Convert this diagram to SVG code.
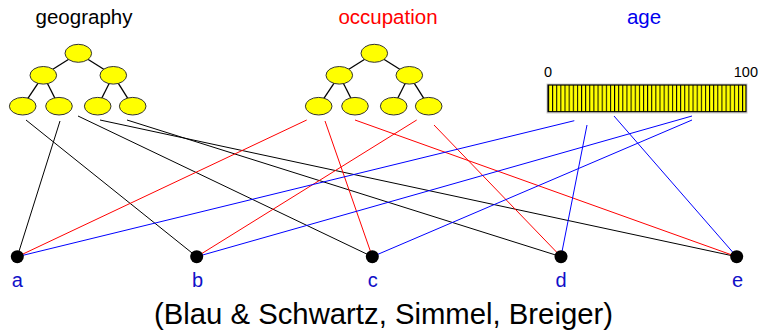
<svg xmlns="http://www.w3.org/2000/svg" width="759" height="332" viewBox="0 0 759 332">
<style>
  text { font-family: "Liberation Sans", Arial, sans-serif; }
  .tree line { stroke: #000; stroke-width: 1.3; }
  .tree ellipse { fill: #ffff00; stroke: #333; stroke-width: 1; }
  .k { stroke: #000; stroke-width: 1; }
  .r { stroke: #ff0000; stroke-width: 1; }
  .b { stroke: #0000ff; stroke-width: 1; }
  .node circle { fill: #000; }
  .lab { font-size: 20px; fill: #1010c8; text-anchor: middle; }
  .stripe { stroke: #000; stroke-width: 1; }
</style>
<rect width="759" height="332" fill="#ffffff"/>

<text x="84" y="24" font-size="20.5" text-anchor="middle" fill="#000">geography</text>
<text x="388" y="24" font-size="20.5" text-anchor="middle" fill="#ff0000">occupation</text>
<text x="644" y="24" font-size="20.5" text-anchor="middle" fill="#0000ee">age</text>

<g id="geography" class="tree">
  <line x1="78.3" y1="53.3" x2="43.3" y2="75.3"/>
  <line x1="78.3" y1="53.3" x2="113.3" y2="75.3"/>
  <line x1="43.3" y1="75.3" x2="22.7" y2="106.2"/>
  <line x1="43.3" y1="75.3" x2="59" y2="106.2"/>
  <line x1="113.3" y1="75.3" x2="97.7" y2="106.2"/>
  <line x1="113.3" y1="75.3" x2="132.7" y2="106.2"/>
  <ellipse cx="78.3" cy="53.3" rx="13.3" ry="9"/>
  <ellipse cx="43.3" cy="75.3" rx="13.3" ry="8.8"/>
  <ellipse cx="113.3" cy="75.3" rx="13.3" ry="8.8"/>
  <ellipse cx="22.7" cy="106.2" rx="13.3" ry="8.8"/>
  <ellipse cx="59" cy="106.2" rx="13.3" ry="8.8"/>
  <ellipse cx="97.7" cy="106.2" rx="13.3" ry="8.8"/>
  <ellipse cx="132.7" cy="106.2" rx="13.3" ry="8.8"/>
</g>

<g id="occupation" class="tree" transform="translate(296,0)">
  <line x1="78.3" y1="53.3" x2="43.3" y2="75.3"/>
  <line x1="78.3" y1="53.3" x2="113.3" y2="75.3"/>
  <line x1="43.3" y1="75.3" x2="22.7" y2="106.2"/>
  <line x1="43.3" y1="75.3" x2="59" y2="106.2"/>
  <line x1="113.3" y1="75.3" x2="97.7" y2="106.2"/>
  <line x1="113.3" y1="75.3" x2="132.7" y2="106.2"/>
  <ellipse cx="78.3" cy="53.3" rx="13.3" ry="9"/>
  <ellipse cx="43.3" cy="75.3" rx="13.3" ry="8.8"/>
  <ellipse cx="113.3" cy="75.3" rx="13.3" ry="8.8"/>
  <ellipse cx="22.7" cy="106.2" rx="13.3" ry="8.8"/>
  <ellipse cx="59" cy="106.2" rx="13.3" ry="8.8"/>
  <ellipse cx="97.7" cy="106.2" rx="13.3" ry="8.8"/>
  <ellipse cx="132.7" cy="106.2" rx="13.3" ry="8.8"/>
</g>

<defs>
  <pattern id="stripes" x="548" y="0" width="4.13" height="10" patternUnits="userSpaceOnUse">
    <rect x="0" y="0" width="4.13" height="10" fill="#ffff00"/>
    <rect x="0" y="0" width="1" height="10" fill="#000"/>
  </pattern>
</defs>
<g id="age">
  <text x="544" y="76.5" font-size="14.5" fill="#000">0</text>
  <text x="758" y="76.5" font-size="14.5" fill="#000" text-anchor="end">100</text>
  <rect x="547" y="84" width="200" height="29" fill="none" stroke="#cccccc" stroke-width="1"/>
  <rect x="548" y="85" width="198" height="26.7" fill="url(#stripes)" stroke="#000" stroke-width="1.2"/>
</g>

<g id="connectors">
  <line class="k" x1="60" y1="121" x2="17.3" y2="256.7"/>
  <line class="k" x1="26" y1="120" x2="196.7" y2="256.7"/>
  <line class="k" x1="78" y1="116" x2="372.3" y2="256.7"/>
  <line class="k" x1="100" y1="120" x2="736.7" y2="256.7"/>
  <line class="k" x1="127" y1="120" x2="561" y2="256.7"/>

  <line class="r" x1="306.7" y1="120" x2="17.3" y2="256.7"/>
  <line class="r" x1="325" y1="121" x2="372.3" y2="256.7"/>
  <line class="r" x1="355" y1="120" x2="736.7" y2="256.7"/>
  <line class="r" x1="416.7" y1="120" x2="196.7" y2="256.7"/>
  <line class="r" x1="434" y1="125" x2="561" y2="256.7"/>

  <line class="b" x1="574.3" y1="120.7" x2="17.3" y2="256.7"/>
  <line class="b" x1="587" y1="125" x2="561" y2="256.7"/>
  <line class="b" x1="614" y1="116" x2="736.7" y2="256.7"/>
  <line class="b" x1="692" y1="116" x2="196.7" y2="256.7"/>
  <line class="b" x1="692" y1="120" x2="372.3" y2="256.7"/>
</g>

<g id="node-a" class="node"><circle cx="17.3" cy="256.7" r="6.5"/><text class="lab" x="17.3" y="287">a</text></g>
<g id="node-b" class="node"><circle cx="196.7" cy="256.7" r="6.5"/><text class="lab" x="197.5" y="287">b</text></g>
<g id="node-c" class="node"><circle cx="372.3" cy="256.7" r="6.5"/><text class="lab" x="372.8" y="287">c</text></g>
<g id="node-d" class="node"><circle cx="561" cy="256.7" r="6.5"/><text class="lab" x="561" y="287">d</text></g>
<g id="node-e" class="node"><circle cx="736.7" cy="256.7" r="6.5"/><text class="lab" x="737.5" y="287">e</text></g>

<text x="383.5" y="324" font-size="29" text-anchor="middle" fill="#000" textLength="459" lengthAdjust="spacingAndGlyphs">(Blau &amp; Schwartz, Simmel, Breiger)</text>
</svg>
